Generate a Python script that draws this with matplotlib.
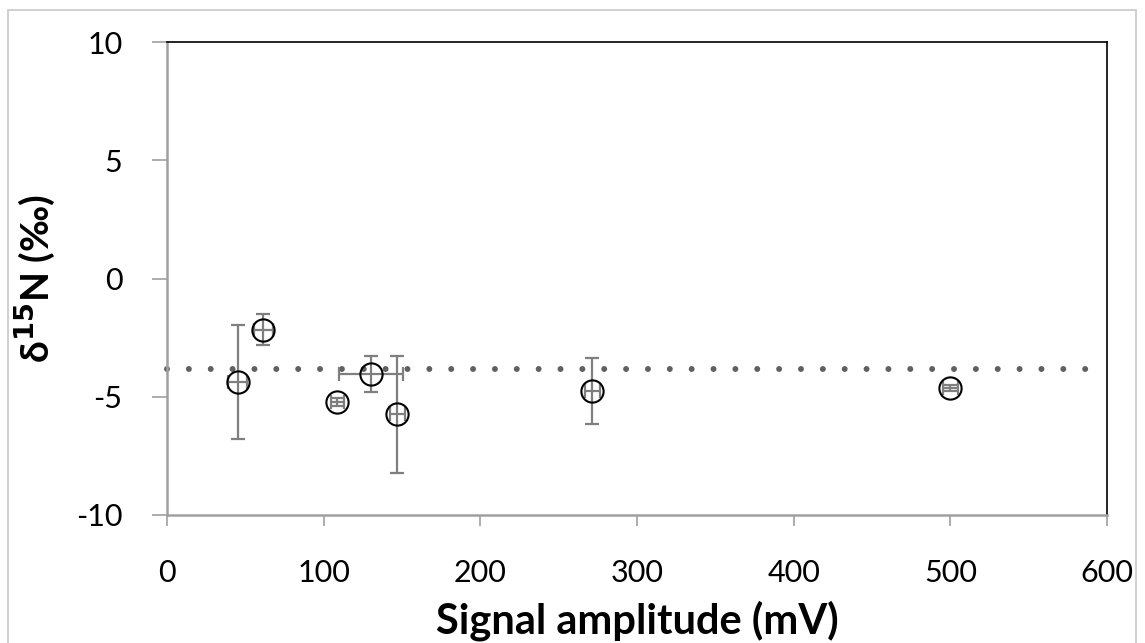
import matplotlib.pyplot as plt
from matplotlib.patches import Rectangle

# data
signal = [45, 61.5, 108.7, 130.2, 147, 271.5, 500]
d15n = [-4.38, -2.16, -5.23, -4.03, -5.75, -4.76, -4.63]
d15n_err = [2.4, 0.66, 0.17, 0.77, 2.47, 1.41, 0.11]
signal_err = [6, 6, 4, 20.3, 4.7, 5, 5]
mean_d15n = -3.83

plt.rcParams['font.family'] = ['Lato', 'DejaVu Sans']
plt.rcParams['axes.unicode_minus'] = False
plt.rcParams['lines.scale_dashes'] = False

fig = plt.figure(figsize=(11.45, 6.43), dpi=100)
# plot area: x 167..1107 px, y 42..515 px
ax = fig.add_axes([167 / 1145, 1 - 515 / 643, 940 / 1145, 473 / 643])

# dotted reference line
ax.plot([0, 600], [mean_d15n, mean_d15n], linestyle=(0, (0.01, 15.73)), dash_capstyle='round',
        color='#606060', linewidth=4.3, zorder=1, clip_on=False)

ax.errorbar(signal, d15n, yerr=d15n_err, xerr=signal_err, fmt='none',
            ecolor='#7f7f7f', elinewidth=1.6, capsize=5, capthick=1.6, zorder=2)
ax.plot(signal, d15n, 'o', markersize=16, markerfacecolor='none',
        markeredgecolor='black', markeredgewidth=1.5, linestyle='none', zorder=3)

ax.set_xlim(0, 600)
ax.set_ylim(-10, 10)
ax.set_xticks(range(0, 601, 100))
ax.set_yticks([-10, -5, 0, 5, 10])

for side in ['top', 'right']:
    ax.spines[side].set_color('black')
    ax.spines[side].set_linewidth(1.2)
for side in ['left', 'bottom']:
    ax.spines[side].set_color('#a0a0a0')
    ax.spines[side].set_linewidth(1.8)

ax.tick_params(direction='out', width=1.2, color='#a0a0a0',
               labelsize=22, labelcolor='black')
ax.tick_params(axis='y', length=11, pad=21)
ax.tick_params(axis='x', length=8, pad=24)

ax.set_xlabel('Signal amplitude (mV)', fontsize=30, fontweight='bold', labelpad=9)
ax.set_ylabel(r'δ$^{\mathbf{15}}$N (‰)', fontsize=28, fontweight='bold', labelpad=14)

# light outer frame like the original chart area
fig.patches.append(Rectangle((8 / 1145, -0.01), 1128 / 1145, 1 - 10 / 643 + 0.01,
                             transform=fig.transFigure, fill=False,
                             edgecolor='#c8c8c8', linewidth=1.2))

fig.savefig('out.png', dpi=100)
